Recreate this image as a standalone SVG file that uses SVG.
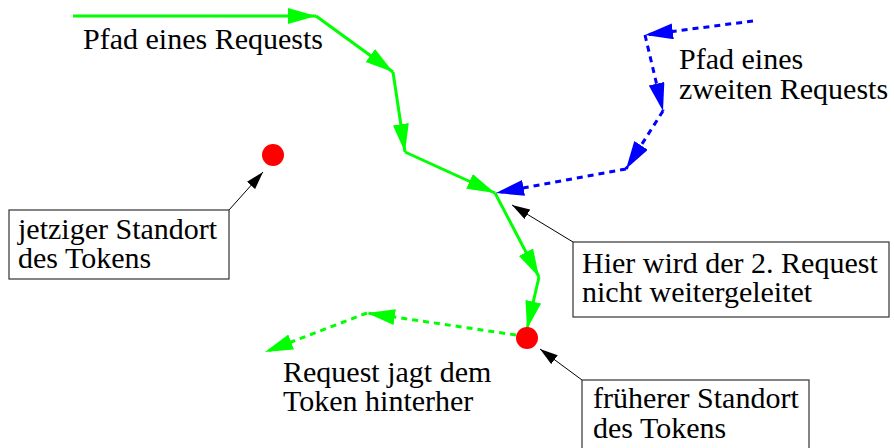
<svg xmlns="http://www.w3.org/2000/svg" width="894" height="448" viewBox="0 0 894 448">
  <style>
    .g { stroke: #00ff00; stroke-width: 3; fill: none; marker-end: url(#ag); }
    .gd { stroke: #00ff00; stroke-width: 3; fill: none; stroke-dasharray: 6 5; marker-end: url(#ag); }
    .bd { stroke: #0000ff; stroke-width: 3; fill: none; stroke-dasharray: 6 5; marker-end: url(#ab); }
    .k { stroke: #000; stroke-width: 1; fill: none; marker-end: url(#ak); }
    .box { fill: #fff; stroke: #333; stroke-width: 1.2; }
    .dot { fill: #ff0000; }
  </style>
  <defs>
    <marker id="ag" markerUnits="userSpaceOnUse" markerWidth="30" markerHeight="18" refX="28" refY="8" orient="auto">
      <path d="M0,0 L28,8 L0,16 z" fill="#00ff00"/>
    </marker>
    <marker id="ab" markerUnits="userSpaceOnUse" markerWidth="30" markerHeight="18" refX="28" refY="8" orient="auto">
      <path d="M0,0 L28,8 L0,16 z" fill="#0000ff"/>
    </marker>
    <marker id="ak" markerUnits="userSpaceOnUse" markerWidth="20" markerHeight="12" refX="18" refY="5.5" orient="auto">
      <path d="M0,0 L18,5.5 L0,11 z" fill="#000"/>
    </marker>
  </defs>

  <g id="connectors">
    <line class="g" x1="73" y1="16" x2="316" y2="16"/>
    <line class="g" x1="316" y1="16" x2="393" y2="72"/>
    <line class="g" x1="393" y1="72" x2="405" y2="152"/>
    <line class="g" x1="405" y1="152" x2="495" y2="193"/>
    <line class="g" x1="495" y1="193" x2="539" y2="277"/>
    <line class="g" x1="539" y1="277" x2="527" y2="329"/>
    <line class="bd" x1="753" y1="21" x2="645" y2="35"/>
    <line class="bd" x1="645" y1="35" x2="663" y2="111"/>
    <line class="bd" x1="663" y1="111" x2="626" y2="169"/>
    <line class="bd" x1="626" y1="169" x2="496" y2="193"/>
    <line class="gd" x1="516" y1="335" x2="367" y2="313"/>
    <line class="gd" x1="367" y1="313" x2="265" y2="352"/>
    <line class="k" x1="229" y1="210" x2="263" y2="172"/>
    <line class="k" x1="573" y1="242" x2="512" y2="205"/>
    <line class="k" x1="582" y1="380" x2="540" y2="349"/>
  </g>

  <g id="token-now">
    <circle class="dot" cx="273" cy="155" r="11"/>
  </g>
  <g id="token-before">
    <circle class="dot" cx="527" cy="338" r="11"/>
  </g>

  <g id="label-path1">
    <text x="83" y="49" font-family="Liberation Serif" font-size="30">Pfad eines Requests</text>
  </g>
  <g id="label-path2">
    <text x="679" y="69" font-family="Liberation Serif" font-size="30">Pfad eines</text>
    <text x="679" y="99" font-family="Liberation Serif" font-size="30">zweiten Requests</text>
  </g>
  <g id="label-chase">
    <text x="283" y="382" font-family="Liberation Serif" font-size="30">Request jagt dem</text>
    <text x="283" y="411" font-family="Liberation Serif" font-size="30">Token hinterher</text>
  </g>

  <g id="box-jetzt">
    <rect class="box" x="9" y="210" width="220" height="69"/>
    <text x="18" y="239" font-family="Liberation Serif" font-size="30">jetziger Standort</text>
    <text x="18" y="268" font-family="Liberation Serif" font-size="30">des Tokens</text>
  </g>
  <g id="box-hier">
    <rect class="box" x="573" y="242" width="316" height="75"/>
    <text x="582" y="273" font-family="Liberation Serif" font-size="30">Hier wird der 2. Request</text>
    <text x="582" y="302" font-family="Liberation Serif" font-size="30">nicht weitergeleitet</text>
  </g>
  <g id="box-frueher">
    <rect class="box" x="582" y="380" width="227" height="80"/>
    <text x="593" y="408" font-family="Liberation Serif" font-size="30">früherer Standort</text>
    <text x="593" y="438" font-family="Liberation Serif" font-size="30">des Tokens</text>
  </g>
</svg>
